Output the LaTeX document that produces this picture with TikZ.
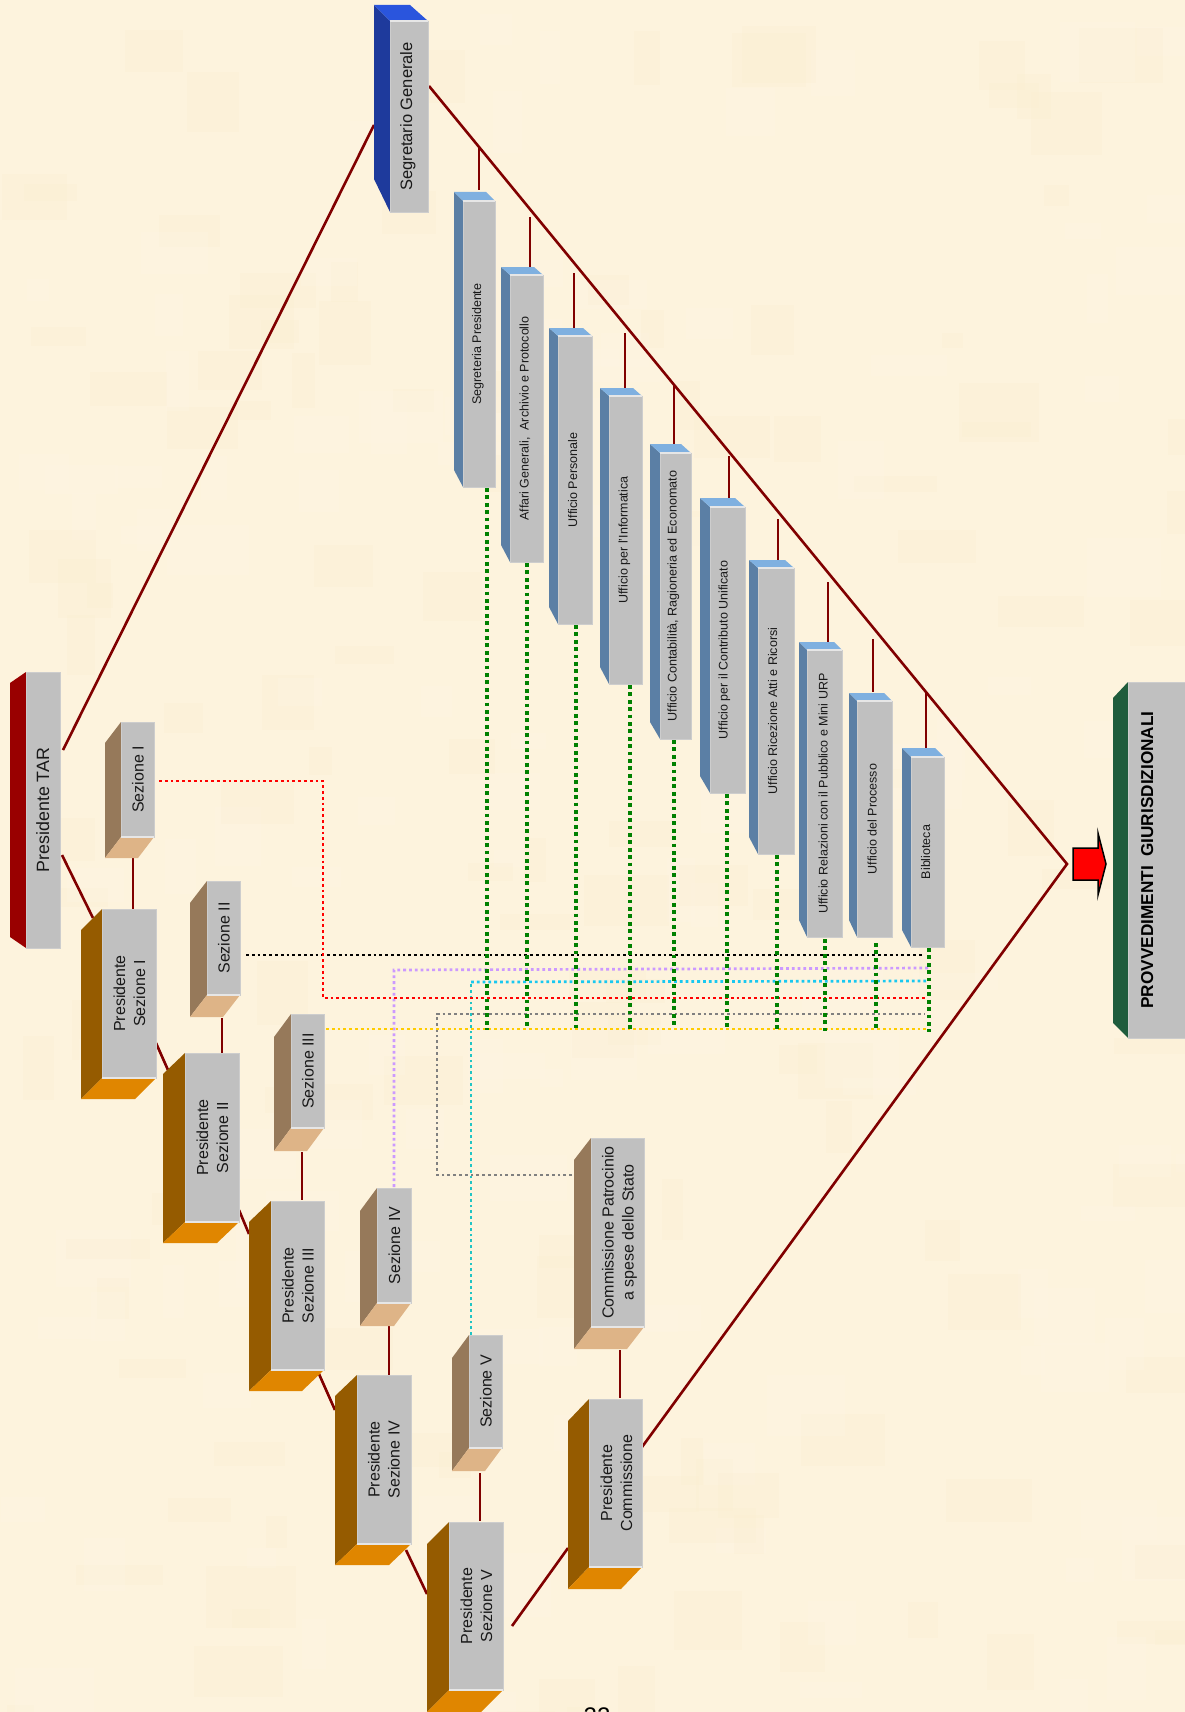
\documentclass[tikz,border=0pt]{standalone}
\usepackage{fontspec}
\usepackage{graphicx}
\setmainfont{Liberation Sans}
\definecolor{bgc}{HTML}{FDF3DD}
\definecolor{lnkc}{HTML}{800000}
\definecolor{frontc}{HTML}{C0C0C0}
\definecolor{edgec}{HTML}{CDCDCD}
\definecolor{hic}{HTML}{E6E6E6}
\definecolor{sidesez}{HTML}{96795A}
\definecolor{botsez}{HTML}{DEB487}
\definecolor{sidepres}{HTML}{955B00}
\definecolor{botpres}{HTML}{E08600}
\definecolor{sideoff}{HTML}{5B7FA5}
\definecolor{topoff}{HTML}{7FB0E0}
\definecolor{sideblue}{HTML}{1E3A9C}
\definecolor{topblue}{HTML}{2A55DD}
\definecolor{sidetar}{HTML}{990000}
\definecolor{sideprov}{HTML}{1F5C3C}
\definecolor{dgreen}{HTML}{008000}
\definecolor{dviolet}{HTML}{CC99FF}
\definecolor{dcyan}{HTML}{19C8F0}
\definecolor{dteal}{HTML}{20C4C4}
\definecolor{dgray}{HTML}{808080}
\definecolor{dyellow}{HTML}{FFCC00}
\tikzset{
  frontbox/.style={draw=edgec,line width=0.8pt,fill=frontc,inner sep=0pt,outer sep=0pt,text=black!90},
  lnk/.style={draw=lnkc,line width=2.6pt},
  sdot/.style={line width=2.7pt,dash pattern=on 2.8pt off 3pt},
  gdot/.style={draw=dgreen,line width=3.4pt,dash pattern=on 3.7pt off 3.7pt},
  hiline/.style={draw=hic,line width=1.6pt}
}
% #1 name #2 kind #3 x1 #4 x2 #5 y1 #6 y2 #7 xleft #8 ytop-of-side #9 text
\newcommand\lowbox[9]{%
  \fill[side#2] (#3,#5) -- (#7,#8) -- (#7,{#6+#8-#5}) -- (#3,#6) -- cycle;
  \fill[bot#2] (#3,#6) -- (#7,{#6+#8-#5}) -- ({#4-#3+#7},{#6+#8-#5}) -- (#4,#6) -- cycle;
  \node[frontbox,minimum width={(#4-#3)*1pt},minimum height={(#6-#5)*1pt}] (#1) at ({(#3+#4)/2},{(#5+#6)/2}) {#9};
  \draw[hiline] (#3,#6) -- (#4,#6);
}
% #1 name #2 x1 #3 x2 #4 y1 #5 y2 #6 xleft #7 yback #8 text
\newcommand\topbox[8]{%
  \fill[sideoff] (#2,#4) -- (#6,#7) -- (#6,{#5-17}) -- (#2,#5) -- cycle;
  \fill[topoff] (#6,#7) -- ({#3-#2+#6},#7) -- (#3,#4) -- (#2,#4) -- cycle;
  \node[frontbox,minimum width={(#3-#2)*1pt},minimum height={(#5-#4)*1pt}] (#1) at ({(#2+#3)/2},{(#4+#5)/2}) {#8};
  \draw[hiline] (#2,#4) -- (#3,#4);
}
\newcommand\txt[3][4]{\kern#1pt\rotatebox{90}{\fontsize{#2}{20}\selectfont\begin{tabular}{@{}c@{}}#3\end{tabular}}}
\begin{document}
\begin{tikzpicture}[x=1pt,y=-1pt]
\useasboundingbox (0,0) rectangle (1185,1712);
\clip (0,0) rectangle (1185,1712);
\fill[bgc] (0,0) rectangle (1185,1712);
% parchment mottling
\pgfmathsetseed{11}
\foreach \i in {1,...,260}{
  \pgfmathsetmacro\xx{rnd*1185}
  \pgfmathsetmacro\yy{rnd*1712}
  \pgfmathsetmacro\ww{20+rnd*70}
  \pgfmathsetmacro\hh{15+rnd*50}
  \pgfmathparse{rnd>0.5?"FFF7E8":"FBEDCF"}
  \definecolor{mott}{HTML}{\pgfmathresult}
  \fill[mott,opacity=.22] (\xx,\yy) rectangle ({\xx+\ww},{\yy+\hh});
}
% named ends of connectors
\coordinate (apex) at (1067,864);
\coordinate (tarR) at (63,750);  \coordinate (segL) at (374,125);
\coordinate (tarB) at (62,855);  \coordinate (pIa) at (93,918);
\coordinate (pIb) at (156,1043); \coordinate (pIIa) at (168,1070);
\coordinate (pIIb) at (239,1210);\coordinate (pIIIa) at (249,1234);
\coordinate (pIIIb) at (319,1374);\coordinate (pIVa) at (335,1410);
\coordinate (pIVb) at (406,1550);\coordinate (pVa) at (427,1594);
\coordinate (pVb) at (512,1626); \coordinate (pCa) at (568,1548);
\coordinate (pCb) at (642,1447); \coordinate (segR) at (429,86);
% connectors
\draw[lnk] (tarR) -- (segL);
\draw[lnk] (tarB) -- (pIa);
\draw[lnk] (pIb) -- (pIIa);
\draw[lnk] (pIIb) -- (pIIIa);
\draw[lnk] (pIIIb) -- (pIVa);
\draw[lnk] (pIVb) -- (pVa);
\draw[lnk] (pVb) -- (pCa);
\draw[lnk,line join=miter] (pCb) -- (apex) -- (segR);
% vertical stubs
\foreach \nm/\xa/\ya/\yb in {s1/133/858/909,s2/222/1018/1053,s3/302/1152/1200,s4/389/1326/1375,s5/480/1473/1521,s6/620/1350/1398,
  o1/479/148/190,o2/530/217/267,o3/574/273/328,o4/625/333/388,o5/674/386/444,o6/729/456/498,o7/778/519/560,o8/828/582/642,o9/873/639/692,o10/926/693/748}{
  \coordinate (\nm a) at (\xa,\ya);
  \coordinate (\nm b) at (\xa,\yb);
  \draw[lnk] (\nm a) -- (\nm b);
}
% coloured dotted connectors
\coordinate (k1) at (246,955);\coordinate (k2) at (923,955);
\draw[sdot,draw=black] (k1) -- (k2);
\coordinate (v1) at (394,1187);\coordinate (v2) at (394,970);\coordinate (v3) at (928,968);
\draw[sdot,draw=dviolet] (v1) -- (v2) -- (v3);
\coordinate (c1) at (471,1335);\coordinate (c2) at (471,982);\coordinate (c3) at (928,981);
\draw[sdot,draw=dteal] (c1) -- (c2);
\draw[sdot,draw=dcyan] (c2) -- (c3);
\coordinate (r1) at (159,781);\coordinate (r2) at (323,781);\coordinate (r3) at (323,998);\coordinate (r4) at (926,998);
\draw[sdot,draw=red] (r1) -- (r2) -- (r3) -- (r4);
\coordinate (g1) at (572,1175);\coordinate (g2) at (437,1175);\coordinate (g3) at (437,1014);\coordinate (g4) at (925,1014);
\draw[sdot,draw=dgray] (g1) -- (g2) -- (g3) -- (g4);
\coordinate (y1) at (326,1029);\coordinate (y2) at (928,1029);
\draw[sdot,draw=dyellow] (y1) -- (y2);
\foreach \nm/\xa/\ya/\yb in {g1/487/488/1030,g2/527/563/1028,g3/576/625/1031,g4/630/685/1031,g5/674/740/1028,g6/727/794/1030,g7/777/855/1030,g8/825/939/1031,g9/876/943/1029,g10/929/948/1032}{
  \coordinate (\nm s) at (\xa,\ya);
  \coordinate (\nm e) at (\xa,\yb);
  \draw[gdot] (\nm s) -- (\nm e);
}
% top level boxes
\fill[sidetar] (26,672) -- (10,683) -- (10,937) -- (26,948) -- cycle;
\node[frontbox,minimum width=34pt,minimum height=276pt] (tar) at (43,810) {\txt{17.8}{Presidente TAR}};
\fill[sideblue] (390,21) -- (374,5) -- (374,179) -- (390,212) -- cycle;
\fill[topblue] (374,5) -- (410,5) -- (428,21) -- (390,21) -- cycle;
\node[frontbox,minimum width=38pt,minimum height=191pt] (seg) at (409,116.5) {\txt[-2]{16.5}{Segretario Generale}};
\draw[hiline] (390,21) -- (428,21);
% sections
\lowbox{sI}{sez}{121}{154}{722}{837}{105}{743}{\txt{16}{Sezione I}}
\lowbox{sII}{sez}{207}{240}{881}{995}{190}{903}{\txt{16}{Sezione II}}
\lowbox{sIII}{sez}{291}{324}{1014}{1128}{274}{1037}{\txt{16}{Sezione III}}
\lowbox{sIV}{sez}{377}{411}{1188}{1303}{360}{1211}{\txt{16}{Sezione IV}}
\lowbox{sV}{sez}{469}{502}{1335}{1448}{452}{1358}{\txt{16}{Sezione V}}
\lowbox{comm}{sez}{591}{644}{1138}{1327}{574}{1160}{\txt{16}{Commissione Patrocinio\\a spese dello Stato}}
% presidents
\lowbox{pI}{pres}{102}{156}{909}{1078}{81}{930}{\txt{16}{Presidente\\Sezione I}}
\lowbox{pII}{pres}{185}{239}{1053}{1222}{163}{1074}{\txt{16}{Presidente\\Sezione II}}
\lowbox{pIII}{pres}{271}{324}{1201}{1370}{249}{1222}{\txt{16}{Presidente\\Sezione III}}
\lowbox{pIV}{pres}{357}{411}{1375}{1544}{335}{1396}{\txt[3]{16}{Presidente\\Sezione IV}}
\lowbox{pV}{pres}{449}{503}{1522}{1690}{427}{1544}{\txt{16}{Presidente\\Sezione V}}
\lowbox{pC}{pres}{589}{642}{1399}{1567}{568}{1421}{\txt[5]{16}{Presidente\\Commissione}}
% offices
\topbox{oA}{463}{495}{201}{487}{454}{192}{\txt[-4]{12.5}{Segreteria Presidente}}
\topbox{oB}{510}{543}{275}{562}{501}{267}{\txt[-4]{12.5}{Affari Generali,\ \ Archivio e Protocollo}}
\topbox{oC}{558}{592}{336}{624}{549}{328}{\txt[-4]{12.5}{Ufficio Personale}}
\topbox{oD}{609}{642}{396}{684}{600}{388}{\txt[-4]{12.5}{Ufficio per l'Informatica}}
\topbox{oE}{660}{691}{453}{739}{650}{444}{\txt[-6]{12.6}{Ufficio Contabilità, Ragioneria ed Economato}}
\topbox{oF}{710}{745}{507}{793}{700}{498}{\txt[-8]{12.5}{Ufficio per il Contributo Unificato}}
\topbox{oG}{758}{794}{568}{854}{749}{560}{\txt[-6]{12.5}{Ufficio Ricezione Atti e Ricorsi}}
\topbox{oH}{807}{842}{650}{937}{799}{642}{\txt[-2]{12.5}{Ufficio Relazioni con il Pubblico e Mini URP}}
\topbox{oI}{857}{892}{701}{937}{849}{693}{\txt[-4]{12.5}{Ufficio del Processo}}
\topbox{oJ}{911}{944}{757}{947}{902}{748}{\txt[-3]{12.5}{Biblioteca}}
% result box
\fill[sideprov] (1128,682) -- (1113,698) -- (1113,1023) -- (1128,1038) -- cycle;
\node[frontbox,minimum width=70pt,minimum height=356pt] (prov) at (1163,860) {};
\node[inner sep=0pt] (provt) at (1149,860) {\txt[0]{17.2}{\bfseries PROVVEDIMENTI\ \ GIURISDIZIONALI}};
% arrow
\draw[black,line width=1.5pt,fill=red,line join=miter] (1073,848) -- (1098,848) -- (1098,833) -- (1106,864) -- (1098,895) -- (1098,880) -- (1073,880) -- cycle;
% page number
\node[inner sep=0pt,anchor=north] (pg) at (597,1708) {\fontsize{24}{24}\selectfont 22};
\end{tikzpicture}
\end{document}
